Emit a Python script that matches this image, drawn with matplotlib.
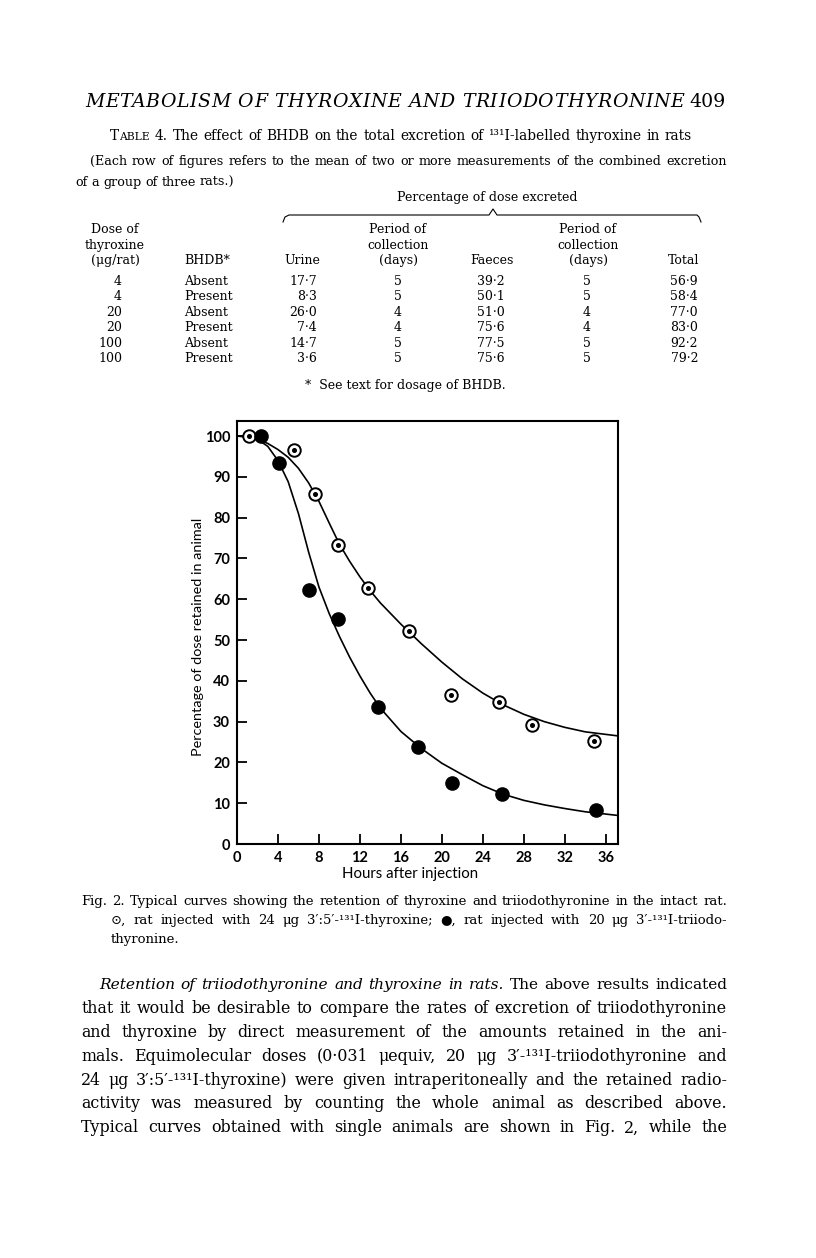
import matplotlib.pyplot as plt
from matplotlib.lines import Line2D

W, H = 816, 1258

# Table 4 values
dose = [4, 4, 20, 20, 100, 100]
bhdb = ['Absent', 'Present', 'Absent', 'Present', 'Absent', 'Present']
urine = [17.7, 8.3, 26.0, 7.4, 14.7, 3.6]
urine_days = [5, 5, 4, 4, 5, 5]
faeces = [39.2, 50.1, 51.0, 75.6, 77.5, 75.6]
faeces_days = [5, 5, 4, 4, 5, 5]
total = [56.9, 58.4, 77.0, 83.0, 92.2, 79.2]

# Fig. 2 points
t4_hours = [1.2, 5.6, 7.6, 9.85, 12.8, 16.75, 20.9, 25.6, 28.8, 34.9]
t4_pct = [100, 96.7, 85.9, 73.2, 62.8, 52.2, 36.5, 34.8, 29.2, 25.2]
t3_hours = [2.35, 4.1, 7.05, 9.9, 13.8, 17.7, 21.0, 25.9, 35.1]
t3_pct = [100, 93.5, 62.3, 55.2, 33.5, 23.9, 15.0, 12.2, 8.3]

# hand drawn curves, read at these hours
curve_hours = [0, 1, 2, 3, 4, 5, 6, 7, 8, 9, 10, 11, 12, 13, 14, 16, 18, 20,
               22, 24, 26, 28, 30, 32, 34, 37.2]
t4_curve = [100, 99.8, 99.2, 98.2, 96.7, 94.8, 92.1, 88.5, 84.0, 78.7, 73.5,
            69.3, 65.5, 62.1, 59.1, 53.9, 49.1, 44.6, 40.5, 37.0, 34.1, 31.8,
            30.0, 28.6, 27.5, 26.5]
t3_curve = [100, 99.9, 99.2, 97.5, 94.0, 88.8, 81.0, 71.5, 63.0, 56.5, 50.9,
            45.8, 41.2, 37.0, 33.3, 27.6, 23.4, 19.8, 17.0, 14.3, 12.2, 10.7,
            9.6, 8.7, 7.9, 7.0]

SERIF = ['DejaVu Serif', 'DejaVu Sans']
SANS = ['Lato', 'DejaVu Sans']
IT = {'style': 'italic'}

fig = plt.figure(figsize=(W / 100, H / 100), dpi=100)
fig.patch.set_facecolor('white')
rend = fig.canvas.get_renderer()


def txt(x, y, s, size, **kw):
    kw.setdefault('family', SERIF)
    kw.setdefault('va', 'baseline')
    return fig.text(x / W, 1 - y / H, s, fontsize=size, **kw)


def ext(s, size, st):
    t = txt(0, 0, s, size, **st)
    w = t.get_window_extent(rend).width
    t.remove()
    return w


def words(s, **st):
    return [(w, st) for w in s.split()]


def layout(items, size):
    # group words of one style into runs, measure offsets from the run text
    runs = []
    for s, st in items:
        st = dict(st)
        rel = st.pop('rel', 1.0)
        join = st.pop('join', False)
        key = (tuple(sorted(st.items())), rel)
        if runs and runs[-1][0] == key and not join:
            runs[-1][3].append(s)
        else:
            runs.append([key, st, rel, [s], join])
    placed, x, g = [], 0.0, 0
    for i, (key, st, rel, ws, join) in enumerate(runs):
        sz = size * rel
        if i and not join:
            x += ext('a a', sz, st) - ext('aa', sz, st)
            g += 1
        for j, wd in enumerate(ws):
            if j:
                g += 1
            off = ext(' '.join(ws[:j + 1]), sz, st) - ext(wd, sz, st)
            placed.append((wd, st, sz, x + off, g))
        x += ext(' '.join(ws), sz, st)
    return placed, x, g


def line(items, x0, y, size, x1=None):
    placed, nat, g = layout(items, size)
    delta = (x1 - x0 - nat) / g if (x1 is not None and g) else 0
    for wd, st, sz, off, gi in placed:
        txt(x0 + off + gi * delta, y, wd, sz, **st)


def fit(lines, base=10, slack=0.99):
    # measured at the size itself, a few passes because hinting is not linear
    s = base
    for _ in range(3):
        s = s * slack * min((x1 - x0) / layout(it, s)[1] for it, x0, x1 in lines)
    return s


def spaced(s, x0, x1, y, size, st):
    # letter spaced line of capitals
    nat = ext(s, size, st)
    track = (x1 - x0 - nat) / (len(s) - 1)
    for k, c in enumerate(s):
        if c == ' ':
            continue
        pos = ext(s[:k + 1], size, st) - ext(c, size, st)
        txt(x0 + pos + k * track, y, c, size, **st)


# running head
head = 'METABOLISM OF THYROXINE AND TRIIODOTHYRONINE'
hs = 14.0
for _ in range(3):
    hs = hs * 0.96 * 599 / ext(head, hs, IT)
spaced(head, 85, 684, 107, hs, IT)
txt(726, 107, '409', hs, ha='right')

# table title
title = [('T', {}), ('ABLE', {'rel': 0.78, 'join': True}), ('4.', {})] + \
    words('The effect of BHDB on the total excretion of ¹³¹I-labelled thyroxine in rats')
ts = fit([(title, 110, 692)], slack=0.99)
line(title, 110, 140, ts, x1=692)

note1 = words('(Each row of figures refers to the mean of two or more measurements of the combined excretion')
note2 = words('of a group of three rats.)')
ns = fit([(note1, 90, 727)])
line(note1, 90, 165, ns, x1=727)
line(note2, 75, 186, ns)

# table
fs = 9.0
txt(487, 201, 'Percentage of dose excreted', fs, ha='center')
bx = [283, 285, 289, 489, 493, 497, 697, 699, 701]
by = [222, 217, 215, 215, 209, 215, 215, 217, 222]
fig.add_artist(Line2D([v / W for v in bx], [1 - v / H for v in by],
                      transform=fig.transFigure, color='black', lw=0.8))

hy = [233, 249, 264]
for i, s in enumerate(['Dose of', 'thyroxine', '(μg/rat)']):
    txt(115, hy[i], s, fs, ha='center')
txt(184, hy[2], 'BHDB*', fs)
txt(302, hy[2], 'Urine', fs, ha='center')
for cx in (398, 588):
    for i, s in enumerate(['Period of', 'collection', '(days)']):
        txt(cx, hy[i], s, fs, ha='center')
txt(492, hy[2], 'Faeces', fs, ha='center')
txt(684, hy[2], 'Total', fs, ha='center')


def dot(v):
    return f'{v:.1f}'.replace('.', '·')


for i in range(len(dose)):
    y = 285 + i * 15.4
    txt(122, y, str(dose[i]), fs, ha='right')
    txt(184, y, bhdb[i], fs)
    txt(317, y, dot(urine[i]), fs, ha='right')
    txt(398, y, str(urine_days[i]), fs, ha='center')
    txt(505, y, dot(faeces[i]), fs, ha='right')
    txt(587, y, str(faeces_days[i]), fs, ha='center')
    txt(698, y, dot(total[i]), fs, ha='right')
txt(405, 389, '*  See text for dosage of BHDB.', fs, ha='center')

# Fig. 2
ax = fig.add_axes([237 / W, 1 - 844 / H, (618 - 237) / W, (844 - 421) / H])
ax.plot(curve_hours, t4_curve, color='black', lw=1.2)
ax.plot(curve_hours, t3_curve, color='black', lw=1.2)
ax.plot(t4_hours, t4_pct, 'o', ms=9, mfc='white', mec='black', mew=1.4, zorder=3)
ax.plot(t4_hours, t4_pct, 'o', ms=2.6, color='black', zorder=4)
ax.plot(t3_hours, t3_pct, 'o', ms=9.5, color='black', zorder=3)
ax.set_xlim(0, 37.2)
ax.set_ylim(0, 103.7)
ax.set_xticks(range(0, 37, 4))
ax.set_yticks(range(0, 101, 10))
ax.tick_params(direction='in', length=7, width=1.3, pad=5, labelsize=10.5)
for lab in ax.get_xticklabels() + ax.get_yticklabels():
    lab.set_fontfamily(SANS)
    lab.set_fontweight('bold')
for sp in ax.spines.values():
    sp.set_linewidth(1.5)
txt(410, 874, 'Hours after injection', 10.8, family=SANS, ha='center', va='center')
txt(198, 637, 'Percentage of dose retained in animal', 10.4, family=SANS,
    ha='center', va='center', rotation=90)

# caption
cap1 = [('Fig.', {}), ('2.', {})] + \
    words('Typical curves showing the retention of thyroxine and triiodothyronine in the intact rat.')
cap2 = words('⊙, rat injected with 24 μg 3′:5′-¹³¹I-thyroxine;  ●, rat injected with 20 μg 3′-¹³¹I-triiodo-')
cs = fit([(cap1, 81, 727)])
line(cap1, 81, 905, cs, x1=727)
line(cap2, 111, 924, min(cs, fit([(cap2, 111, 727)], base=cs)), x1=727)
line(words('thyronine.'), 111, 943, cs)

# body text
body = [
    (words('Retention of triiodothyronine and thyroxine in rats.', **IT) +
     words('The above results indicated'), 99),
    (words('that it would be desirable to compare the rates of excretion of triiodothyronine'), 81),
    (words('and thyroxine by direct measurement of the amounts retained in the ani-'), 81),
    (words('mals.  Equimolecular doses (0·031 μequiv, 20 μg 3′-¹³¹I-triiodothyronine and'), 81),
    (words('24 μg 3′:5′-¹³¹I-thyroxine) were given intraperitoneally and the retained radio-'), 81),
    (words('activity was measured by counting the whole animal as described above.'), 81),
    (words('Typical curves obtained with single animals are shown in Fig. 2, while the'), 81),
]
bs = fit([(it, x0, 727) for it, x0 in body[1:]])
for i, (it, x0) in enumerate(body):
    s = min(bs, fit([(it, x0, 727)], base=bs))
    line(it, x0, 989 + i * 23.9, s, x1=727)

fig.savefig('out.png', dpi=100)
